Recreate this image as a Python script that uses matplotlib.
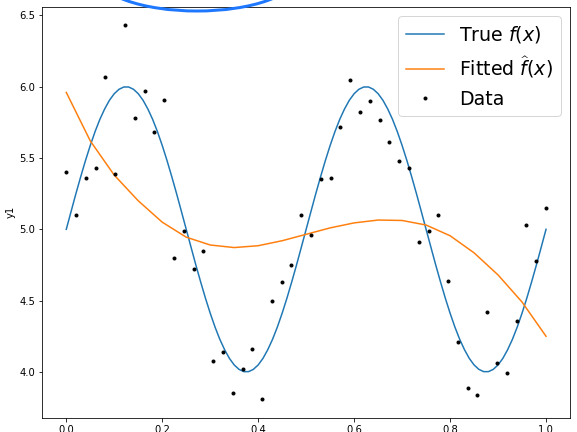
import matplotlib.pyplot as plt
import numpy as np
from matplotlib.patches import Ellipse

# Noisy samples (y), on an even grid of 50 points
data_x = np.linspace(0, 1, 50)
data_y = [
    5.40, 5.10, 5.36, 5.43, 6.07, 5.39, 6.43, 5.78, 5.97, 5.68,
    5.91, 4.80, 4.99, 4.72, 4.85, 4.08, 4.14, 3.85, 4.02, 4.16,
    3.81, 4.50, 4.63, 4.75, 5.10, 4.96, 5.35, 5.36, 5.72, 6.05,
    5.82, 5.90, 5.77, 5.61, 5.48, 5.43, 4.91, 4.99, 5.10, 4.64,
    4.21, 3.89, 3.84, 4.42, 4.06, 3.99, 4.36, 5.03, 4.78, 5.15,
]

# True curve, read every 0.01
true_x = np.linspace(0, 1, 101)
true_y = [
    5.000, 5.125, 5.249, 5.368, 5.482, 5.588, 5.685, 5.771, 5.844, 5.905,
    5.951, 5.982, 5.998, 5.998, 5.982, 5.951, 5.905, 5.844, 5.771, 5.685,
    5.588, 5.482, 5.368, 5.249, 5.125, 5.000, 4.875, 4.751, 4.632, 4.518,
    4.412, 4.315, 4.229, 4.156, 4.095, 4.049, 4.018, 4.002, 4.002, 4.018,
    4.049, 4.095, 4.156, 4.229, 4.315, 4.412, 4.518, 4.632, 4.751, 4.875,
    5.000, 5.125, 5.249, 5.368, 5.482, 5.588, 5.685, 5.771, 5.844, 5.905,
    5.951, 5.982, 5.998, 5.998, 5.982, 5.951, 5.905, 5.844, 5.771, 5.685,
    5.588, 5.482, 5.368, 5.249, 5.125, 5.000, 4.875, 4.751, 4.632, 4.518,
    4.412, 4.315, 4.229, 4.156, 4.095, 4.049, 4.018, 4.002, 4.002, 4.018,
    4.049, 4.095, 4.156, 4.229, 4.315, 4.412, 4.518, 4.632, 4.751, 4.875,
    5.000,
]

# Fitted curve, read every 0.05
fit_x = np.linspace(0, 1, 21)
fit_y = [
    5.96, 5.62, 5.38, 5.20, 5.05, 4.945, 4.89, 4.872, 4.885, 4.92,
    4.965, 5.01, 5.045, 5.065, 5.062, 5.03, 4.955, 4.835, 4.68, 4.49,
    4.25,
]

fig = plt.figure(figsize=(577 / 72, 432 / 72), dpi=72)
ax = fig.add_axes([0.0733, 0.0331, 0.9146, 0.9514])

ax.plot(true_x, true_y, label="True $f(x)$")
ax.plot(fit_x, fit_y, label="Fitted $\\widehat{f}(x)$")
ax.plot(data_x, data_y, "k.", label="Data")
ax.set_ylabel("y1")
ax.legend(loc="upper right", fontsize=19)

# blue hand-drawn ellipse cut off at the top of the screenshot
fig.add_artist(
    Ellipse(
        (197 / 577, 1 + 25 / 432),
        200 / 577,
        72 / 432,
        transform=fig.transFigure,
        fill=False,
        edgecolor="#1e78ff",
        linewidth=3,
    )
)

fig.savefig("out.png", dpi=72)
